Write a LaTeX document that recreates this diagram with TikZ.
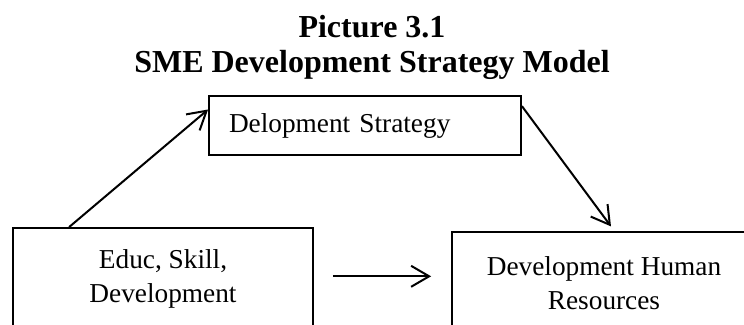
\documentclass[tikz,border=0pt]{standalone}
\usepackage{fontspec}
\setmainfont{Liberation Serif}
\usetikzlibrary{arrows.meta}
\begin{document}
\begin{tikzpicture}
            [x=1pt, y=1pt,
            every node/.style={inner sep=0pt},
            box/.style={draw=black, line width=1.8pt, font=\fontsize{27.3}{34.5}\selectfont},
            heading/.style={font=\bfseries\fontsize{32}{35}\selectfont, anchor=base},
            link/.style={line width=2pt, -{Straight Barb[length=18pt, width=21pt, line width=2pt]}}]
            \useasboundingbox (0,0) rectangle (744,324);
            \node[heading] (caption) at (372,286) {Picture 3.1};
            \node[heading] (title) at (372,251) {SME Development Strategy Model};
            \node[box, text width=272pt, inner xsep=20pt, minimum height=59pt, align=left]
                (strategy) at (365,198.5) {Delopment Strategy};
            \node[box, minimum width=300pt, minimum height=102pt, align=center]
                (edu) at (163,45) {Educ, Skill,\\Development};
            \node[box, minimum width=304pt, minimum height=102pt, align=center]
                (hr) at (604,40.7) {Development Human\\Resources};
            \draw[link] ([xshift=57pt]edu.north west) -- ([yshift=16pt]strategy.west);
            \draw[link] ([yshift=-11pt]strategy.north east) -- ([xshift=7pt, yshift=5pt]hr.north);
            \draw[link, shorten <=19pt, shorten >=20pt] ([yshift=2.7pt]edu.east) -- ([yshift=2.7pt]edu.east -| hr.west);
        \end{tikzpicture}
\end{document}
